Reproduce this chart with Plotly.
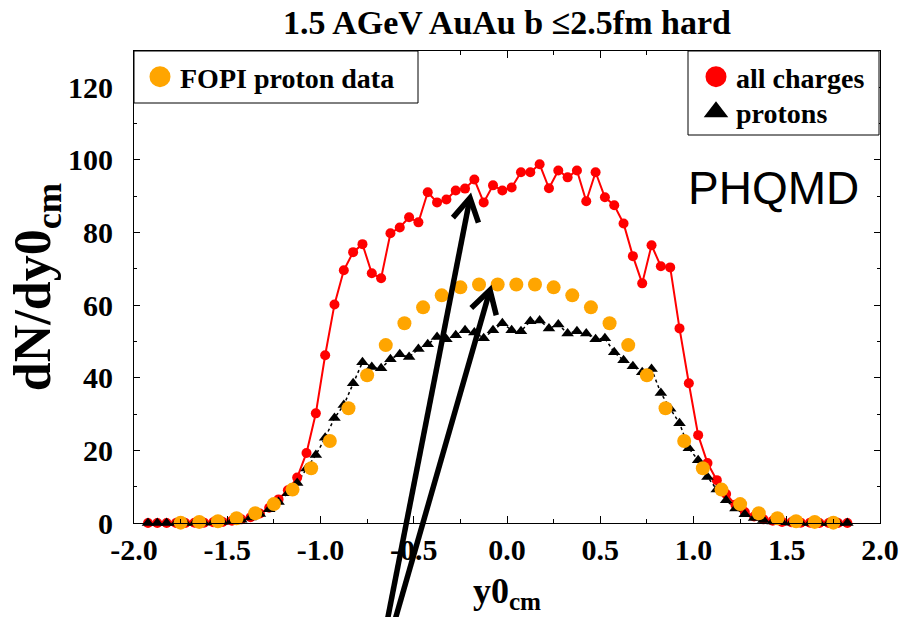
import math
import plotly.graph_objects as go

# ---------------- data ----------------
y_model = [-1.925, -1.875, -1.825, -1.775, -1.725, -1.675, -1.625, -1.575, -1.525, -1.475,
           -1.425, -1.375, -1.325, -1.275, -1.225, -1.175, -1.125, -1.075, -1.025, -0.975,
           -0.925, -0.875, -0.825, -0.775, -0.725, -0.675, -0.625, -0.575, -0.525, -0.475,
           -0.425, -0.375, -0.325, -0.275, -0.225, -0.175, -0.125, -0.075, -0.025, 0.025,
           0.075, 0.125, 0.175, 0.225, 0.275, 0.325, 0.375, 0.425, 0.475, 0.525,
           0.575, 0.625, 0.675, 0.725, 0.775, 0.825, 0.875, 0.925, 0.975, 1.025,
           1.075, 1.125, 1.175, 1.225, 1.275, 1.325, 1.375, 1.425, 1.475, 1.525,
           1.575, 1.625, 1.675, 1.725, 1.775, 1.825]

all_charges = [0.0, 0.0, 0.0, 0.0, 0.0, 0.1, 0.1, 0.2, 0.3, 0.6,
               1.0, 1.6, 2.6, 4.2, 6.5, 9.0, 12.5, 19.3, 30.2, 46.2,
               60.2, 69.6, 74.6, 76.8, 68.8, 67.4, 79.8, 81.4, 84.2, 82.8,
               91.1, 88.3, 89.1, 91.6, 92.1, 94.6, 88.3, 93.0, 91.6, 92.4,
               96.6, 96.6, 98.8, 92.2, 97.1, 95.2, 97.1, 88.6, 96.6, 89.7,
               87.5, 82.5, 73.5, 66.0, 76.5, 70.7, 70.4, 53.6, 38.5, 24.2,
               16.5, 11.8, 8.0, 5.0, 3.0, 1.8, 1.0, 0.6, 0.3, 0.2,
               0.1, 0.1, 0.0, 0.0, 0.0, 0.0]

protons = [0.0, 0.0, 0.0, 0.0, 0.0, 0.1, 0.1, 0.2, 0.3, 0.5,
           0.9, 1.5, 2.5, 3.8, 5.8, 8.2, 11.0, 15.0, 18.7, 23.5,
           28.9, 32.5, 38.5, 44.3, 43.0, 42.6, 45.1, 46.5, 45.7, 47.9,
           49.2, 51.2, 50.6, 51.7, 53.1, 52.5, 50.9, 53.1, 55.0, 53.1,
           52.8, 55.6, 55.8, 53.6, 54.7, 52.2, 52.8, 52.2, 50.6, 50.9,
           47.0, 44.8, 43.2, 41.5, 42.4, 35.8, 31.5, 27.5, 20.6, 17.3,
           12.7, 9.2, 6.3, 4.0, 2.4, 1.4, 0.8, 0.4, 0.2, 0.1,
           0.1, 0.0, 0.0, 0.0, 0.0, 0.0]

y_fopi = [-1.75, -1.65, -1.55, -1.45, -1.35, -1.25, -1.15, -1.05, -0.95, -0.85,
          -0.75, -0.65, -0.55, -0.45, -0.35, -0.25, -0.15, -0.05, 0.05, 0.15,
          0.25, 0.35, 0.45, 0.55, 0.65, 0.75, 0.85, 0.95, 1.05, 1.15,
          1.25, 1.35, 1.45, 1.55, 1.65, 1.75]
fopi_protons = [0.1, 0.3, 0.5, 1.3, 2.7, 5.2, 9.2, 15.1, 22.6, 31.6,
                40.7, 49.0, 55.0, 59.4, 62.7, 64.9, 65.7, 65.7, 65.7, 65.7,
                64.9, 62.7, 59.4, 55.0, 49.0, 40.7, 31.6, 22.6, 15.1, 9.2,
                5.2, 2.7, 1.3, 0.5, 0.3, 0.1]

x_ticks = [-2.0, -1.5, -1.0, -0.5, 0.0, 0.5, 1.0, 1.5, 2.0]
x_tick_labels = ["-2.0", "-1.5", "-1.0", "-0.5", "0.0", "0.5", "1.0", "1.5", "2.0"]
y_ticks = [0, 20, 40, 60, 80, 100, 120]

# ---------------- layout constants ----------------
W, H = 904, 617
L, R, T, B = 134, 24, 51, 94
PW, PH = W - L - R, H - T - B
SERIF = "Liberation Serif"

RED = "#ff0000"
ORANGE = "#ffa500"


def px2paper(px, py):
    return (px - L) / PW, (H - B - py) / PH


fig = go.Figure()

# red line (all charges)
fig.add_trace(go.Scatter(x=y_model, y=all_charges, mode="lines",
                         line=dict(color=RED, width=2), showlegend=False,
                         cliponaxis=False, hoverinfo="skip"))
# black dotted line (protons)
fig.add_trace(go.Scatter(x=y_model, y=protons, mode="lines",
                         line=dict(color="black", width=1.5, dash="dot"),
                         showlegend=False, cliponaxis=False, hoverinfo="skip"))
# red markers
fig.add_trace(go.Scatter(x=y_model, y=all_charges, mode="markers", name="all charges",
                         marker=dict(color=RED, size=10, symbol="circle"),
                         showlegend=False, cliponaxis=False))
# black triangles
fig.add_trace(go.Scatter(x=y_model, y=protons, mode="markers", name="protons",
                         marker=dict(color="black", size=11, symbol="triangle-up"),
                         showlegend=False, cliponaxis=False))
# FOPI data
fig.add_trace(go.Scatter(x=y_fopi, y=fopi_protons, mode="markers", name="FOPI proton data",
                         marker=dict(color=ORANGE, size=14, symbol="circle"),
                         showlegend=False, cliponaxis=False))

# legend entries (large symbols, as in the original legend boxes)
fig.add_trace(go.Scatter(x=[None], y=[None], mode="markers", name="FOPI proton data",
                         marker=dict(color=ORANGE, size=16, symbol="circle",
                                     line=dict(color=ORANGE, width=5)),
                         legend="legend"))
fig.add_trace(go.Scatter(x=[None], y=[None], mode="markers", name="all charges",
                         marker=dict(color=RED, size=16, symbol="circle",
                                     line=dict(color=RED, width=5)),
                         legend="legend2"))
fig.add_trace(go.Scatter(x=[None], y=[None], mode="markers", name="protons",
                         marker=dict(color="black", size=16, symbol="triangle-up",
                                     line=dict(color="black", width=3)),
                         legend="legend3"))

# ---------------- arrows + legend boxes (shapes) ----------------
shapes = []


def box(p0, p1):
    x0, y0 = px2paper(*p0)
    x1, y1 = px2paper(*p1)
    shapes.append(dict(type="rect", xref="paper", yref="paper", x0=x0, y0=y0, x1=x1, y1=y1,
                       line=dict(color="black", width=1), fillcolor="white", layer="above"))


def arrow(tip, tail, width=5, head=26, ang=30):
    tx, ty = tip
    dx, dy = tail[0] - tx, tail[1] - ty
    n = math.hypot(dx, dy)
    ux, uy = dx / n, dy / n
    arms = []
    for s in (1, -1):
        a = math.radians(ang) * s
        rx = ux * math.cos(a) - uy * math.sin(a)
        ry = ux * math.sin(a) + uy * math.cos(a)
        arms.append((tx + rx * head, ty + ry * head))
    x0, y0 = px2paper(*tail)
    x1, y1 = px2paper(*tip)
    shapes.append(dict(type="line", xref="paper", yref="paper", x0=x0, y0=y0, x1=x1, y1=y1,
                       line=dict(color="black", width=width), layer="above"))
    a1 = px2paper(*arms[0])
    a2 = px2paper(*arms[1])
    shapes.append(dict(type="path", xref="paper", yref="paper",
                       path=f"M {a1[0]} {a1[1]} L {x1} {y1} L {a2[0]} {a2[1]}",
                       line=dict(color="black", width=width), layer="above"))


box((134, 51), (418, 103))
box((688, 51), (879, 135))
arrow((470, 198), (386, 627), width=5.5)
arrow((490, 290), (393, 627), width=5.5)

phx, phy = px2paper(773, 188)
lg1x, lg1y = px2paper(140, 77)
lg2x, lg2y = px2paper(696, 77)
lg3x, lg3y = px2paper(696, 112)

LEGFONT = dict(family=SERIF, size=28, color="black", weight="bold")


def leg(x, y):
    return dict(x=x, y=y, xref="paper", yref="paper", xanchor="left", yanchor="middle",
                bgcolor="rgba(0,0,0,0)", borderwidth=0, font=LEGFONT,
                itemsizing="trace", tracegroupgap=0)


fig.update_layout(
    width=W, height=H,
    margin=dict(l=L, r=R, t=T, b=B, autoexpand=False),
    paper_bgcolor="white", plot_bgcolor="white",
    title=dict(text="1.5 AGeV AuAu b \u22642.5fm hard", x=0.5, xref="paper", xanchor="center",
               y=1 - 22 / H, yref="container", yanchor="middle",
               font=dict(family=SERIF, size=34, color="black", weight="bold")),
    font=dict(family=SERIF, color="black"),
    xaxis=dict(range=[-2, 2], tickvals=x_ticks, ticktext=x_tick_labels,
               ticks="inside", ticklen=7, tickwidth=1, tickcolor="black",
               minor=dict(dtick=0.25, ticks="inside", ticklen=4, tickcolor="black", showgrid=False),
               showline=True, linecolor="black", linewidth=1, mirror="ticks",
               showgrid=False, zeroline=False,
               tickfont=dict(family=SERIF, size=30, color="black", weight="bold"),
               title=dict(text="y0<sub>cm</sub>", standoff=12,
                          font=dict(family=SERIF, size=36, color="black", weight="bold"))),
    yaxis=dict(range=[0, 130], tickvals=y_ticks,
               ticks="inside", ticklen=6, tickwidth=1, tickcolor="black",
               minor=dict(dtick=10, ticks="inside", ticklen=3, tickcolor="black", showgrid=False),
               showline=True, linecolor="black", linewidth=1, mirror="ticks",
               showgrid=False, zeroline=False, ticklabelstandoff=14,
               tickfont=dict(family=SERIF, size=30, color="black", weight="bold"),
               title=dict(text="dN/dy0<sub>cm</sub>", standoff=0,
                          font=dict(family=SERIF, size=52, color="black", weight="bold"))),
    legend=leg(lg1x, lg1y),
    legend2=leg(lg2x, lg2y),
    legend3=leg(lg3x, lg3y),
    shapes=shapes,
    annotations=[dict(text="PHQMD", x=phx, y=phy, xref="paper", yref="paper",
                      xanchor="center", yanchor="middle", showarrow=False,
                      font=dict(family="Liberation Sans", size=46, color="black"))],
)

fig.write_html("out.html", config={"displayModeBar": False},
               post_script="document.body.style.margin='0';")
